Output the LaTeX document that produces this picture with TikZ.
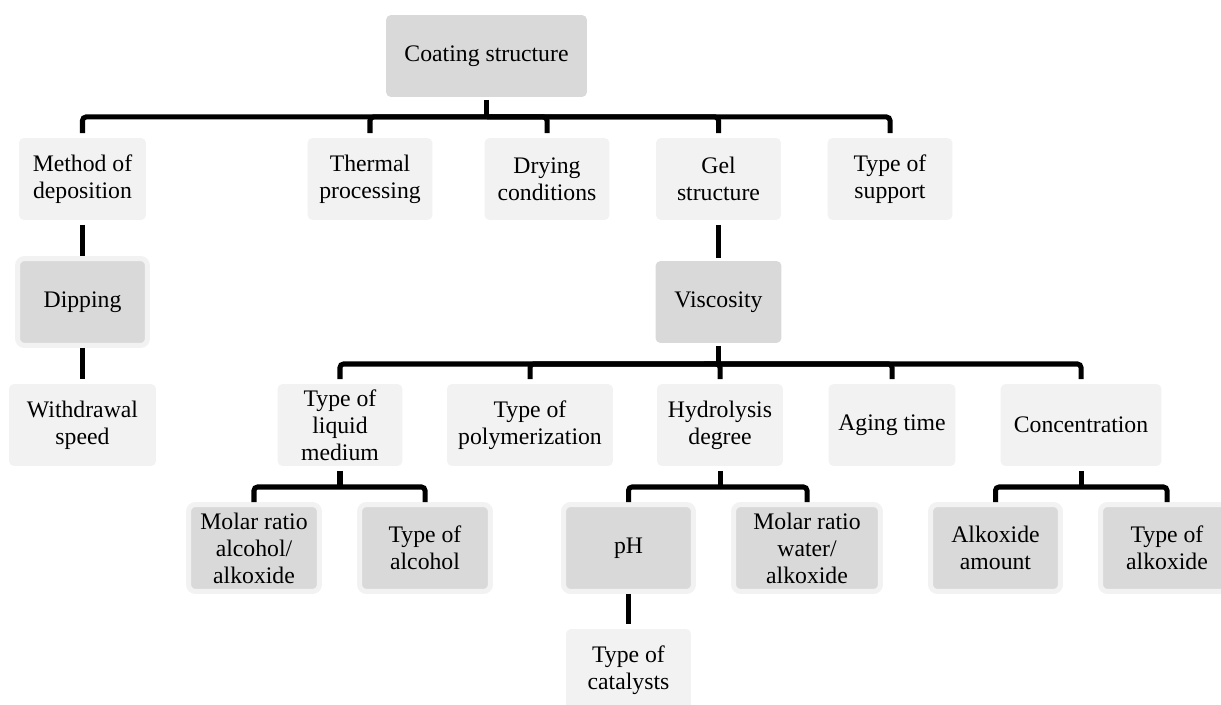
\documentclass[tikz,border=0pt]{standalone}
\usepackage{fontspec}
\setmainfont{Liberation Serif}
\definecolor{boxlight}{HTML}{F2F2F2}
\definecolor{boxdark}{HTML}{D9D9D9}

\begin{document}
\begin{tikzpicture}[x=0.02cm, y=-0.02cm,
    lightbox/.style={fill=boxlight, rounded corners=0.1cm, align=center, inner sep=0pt,
        outer sep=0.1cm, minimum width=2.5cm, minimum height=1.64cm,
        font=\fontsize{13.5}{15.4}\selectfont},
    darkbox/.style={lightbox, fill=boxdark, outer sep=0.06cm},
    halobox/.style={lightbox, fill=boxdark, draw=boxlight, line width=0.1cm,
        rounded corners=0.14cm, outer sep=0.05cm, minimum width=2.6cm, minimum height=1.74cm},
    conn/.style={line width=2.85pt, rounded corners=2pt}]
    \useasboundingbox (0,0) rectangle (1221,705);

    % Draw nodes
    \node[darkbox, minimum width=4.02cm] (root) at (486.5,56) {Coating structure};

    \node[lightbox, minimum width=2.54cm] (method) at (82.5,179) {Method of\\deposition};
    \node[lightbox] (thermal) at (370,179) {Thermal\\processing};
    \node[lightbox] (drying) at (547,179) {Drying\\conditions};
    \node[lightbox] (gel) at (718.5,179) {Gel\\structure};
    \node[lightbox] (support) at (890,179) {Type of\\support};

    \node[halobox] (dipping) at (82.5,302) {Dipping};
    \node[lightbox, minimum width=2.94cm] (withdrawal) at (82.5,425) {Withdrawal\\speed};

    \node[darkbox, minimum width=2.52cm] (viscosity) at (718.5,302) {Viscosity};

    \node[lightbox] (liquid) at (340,425) {Type of\\liquid\\medium};
    \node[lightbox, minimum width=3.32cm] (polymer) at (530,425) {Type of\\polymerization};
    \node[lightbox, minimum width=2.52cm] (hydrolysis) at (720,425) {Hydrolysis\\degree};
    \node[lightbox, minimum width=2.54cm] (aging) at (892,425) {Aging time};
    \node[lightbox, minimum width=3.22cm] (concentration) at (1081,425) {Concentration};

    \node[halobox, minimum width=2.62cm] (alcratio) at (254,548) {Molar ratio\\alcohol/\\alkoxide};
    \node[halobox, minimum width=2.62cm] (alcohol) at (425,548) {Type of\\alcohol};
    \node[halobox] (ph) at (628.5,548) {pH};
    \node[halobox, minimum width=2.94cm] (waterratio) at (807,548) {Molar ratio\\water/\\alkoxide};
    \node[halobox] (amount) at (995.5,548) {Alkoxide\\amount};
    \node[halobox, minimum width=2.66cm] (alkoxide) at (1167,548) {Type of\\alkoxide};

    \node[lightbox] (catalysts) at (628.5,670) {Type of\\catalysts};

    % Bus points
    \coordinate (bus1) at (486.5,117);
    \coordinate (bus2) at (718.5,364);
    \coordinate (bus3) at (340,487);
    \coordinate (bus4) at (720,487);
    \coordinate (bus5) at (1081,487);

    % Draw connections
    \draw[conn] (root.south) -- (bus1);
    \foreach \n in {method, thermal, drying, gel, support}
        \draw[conn] (bus1) -| (\n.north);
    \draw[conn] (method.south) -- (dipping.north);
    \draw[conn] (dipping.south) -- (withdrawal.north);
    \draw[conn] (gel.south) -- (viscosity.north);
    \draw[conn] (viscosity.south) -- (bus2);
    \foreach \n in {liquid, polymer, hydrolysis, aging, concentration}
        \draw[conn] (bus2) -| (\n.north);
    \draw[conn] (liquid.south) -- (bus3);
    \draw[conn] (bus3) -| (alcratio.north);
    \draw[conn] (bus3) -| (alcohol.north);
    \draw[conn] (hydrolysis.south) -- (bus4);
    \draw[conn] (bus4) -| (ph.north);
    \draw[conn] (bus4) -| (waterratio.north);
    \draw[conn] (concentration.south) -- (bus5);
    \draw[conn] (bus5) -| (amount.north);
    \draw[conn] (bus5) -| (alkoxide.north);
    \draw[conn] (ph.south) -- (catalysts.north);
\end{tikzpicture}
\end{document}
